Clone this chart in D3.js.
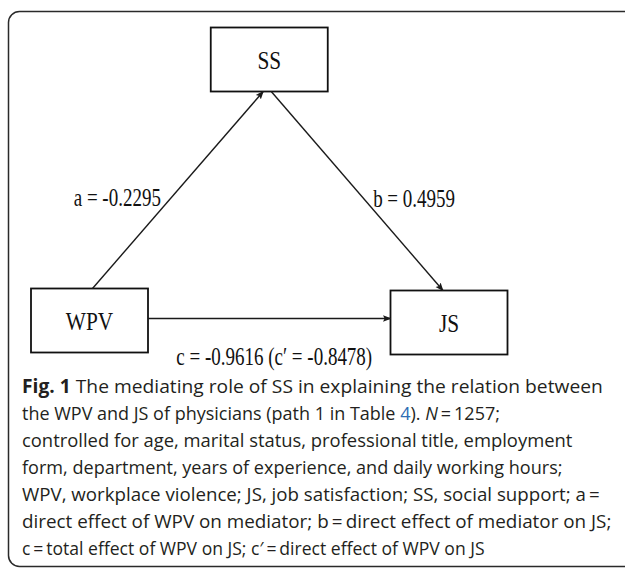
<!DOCTYPE html>
<html>
<head>
<meta charset="utf-8">
<script src="https://cdn.jsdelivr.net/npm/d3@7"></script>
<style>
  body { margin: 0; background: #fff; }
  svg { display: block; }
</style>
</head>
<body>
<div id="chart"></div>
<script>
// model: WPV -> SS -> JS, with direct path WPV -> JS
const nodes = ["WPV", "SS", "JS"];
const roles = ["X", "M", "Y"];
const pathNames = ["a", "b", "c"];
const pathFrom = ["WPV", "SS", "WPV"];
const pathTo = ["SS", "JS", "JS"];
const pathCoef = ["-0.2295", "0.4959", "-0.9616"];
const directCoef = "-0.8478"; // c'

// caption, one entry per printed line; [text, style]
const captionLines = [
  [["Fig. 1", "b"], [" The mediating role of SS in explaining the relation between", ""]],
  [["the WPV and JS of physicians (path 1 in Table ", ""], ["4", "link"], ["). ", ""], ["N", "i"], ["\u2009=\u20091257;", ""]],
  [["controlled for age, marital status, professional title, employment", ""]],
  [["form, department, years of experience, and daily working hours;", ""]],
  [["WPV, workplace violence; JS, job satisfaction; SS, social support; a\u2009=", ""]],
  [["direct effect of WPV on mediator; b\u2009=\u2009direct effect of mediator on JS;", ""]],
  [["c\u2009=\u2009total effect of WPV on JS; c\u2032\u2009=\u2009direct effect of WPV on JS", ""]]
];
// printed width of each caption line in the source
const captionWidths = [581, 478, 551, 541, 578, 590, 463];

const width = 625, height = 569;
const boxW = 117, boxH = 64;

const svg = d3.select("#chart").append("svg")
  .attr("width", width)
  .attr("height", height);

// outer frame, runs off the right edge like the source
svg.append("rect")
  .attr("x", 8.5).attr("y", 11.5)
  .attr("width", 660).attr("height", 555)
  .attr("rx", 11)
  .attr("fill", "none")
  .attr("stroke", "#2a2a2a")
  .attr("stroke-width", 1.5);

const x = d3.scalePoint().domain(nodes).range([89.5, 449]);
const y = d3.scaleOrdinal().domain(roles).range([320.5, 59.5, 322.5]);
const roleOf = n => roles[nodes.indexOf(n)];

svg.append("defs").append("marker")
  .attr("id", "arrow")
  .attr("viewBox", "0 0 10 10")
  .attr("refX", 9).attr("refY", 5)
  .attr("markerWidth", 6).attr("markerHeight", 6)
  .attr("markerUnits", "strokeWidth")
  .attr("orient", "auto")
  .append("path")
  .attr("d", "M0,1 L10,5 L0,9 L2,5 Z")
  .attr("fill", "#1a1a1a");

const g = svg.append("g");

const serif = (sel, size) => sel
  .style("font-family", "'Liberation Serif', serif")
  .style("font-size", size + "px")
  .attr("fill", "#111");

// boxes
const box = g.selectAll("g.node")
  .data(nodes)
  .enter().append("g")
  .attr("class", "node")
  .attr("transform", d => `translate(${x(d)},${y(roleOf(d))})`);

box.append("rect")
  .attr("x", -boxW / 2).attr("y", -boxH / 2)
  .attr("width", boxW).attr("height", boxH)
  .attr("fill", "#fff")
  .attr("stroke", "#111")
  .attr("stroke-width", 1.8);

box.append("text")
  .attr("text-anchor", "middle")
  .attr("dy", "0.35em")
  .attr("transform", "scale(0.82,1)")
  .call(serif, 26)
  .text(d => d);

// path end points, from box edges
function endpoints(i) {
  const f = pathFrom[i], t = pathTo[i];
  const x0 = x(f), y0 = y(roleOf(f)), x1 = x(t), y1 = y(roleOf(t));
  if (Math.abs(y1 - y0) < 10) {
    return [x0 + boxW / 2, (y0 + y1) / 2 - 3, x1 - boxW / 2, (y0 + y1) / 2 - 3];
  }
  const up = y1 < y0;
  return up
    ? [x0 + 3, y0 - boxH / 2, x1 - 6, y1 + boxH / 2]
    : [x0 + 2, y0 + boxH / 2, x1 - 6, y1 - boxH / 2];
}

g.selectAll("line.path")
  .data(pathNames)
  .enter().append("line")
  .attr("class", "path")
  .attr("x1", (d, i) => endpoints(i)[0])
  .attr("y1", (d, i) => endpoints(i)[1])
  .attr("x2", (d, i) => endpoints(i)[2])
  .attr("y2", (d, i) => endpoints(i)[3])
  .attr("stroke", "#1a1a1a")
  .attr("stroke-width", 1.4)
  .attr("marker-end", "url(#arrow)");

// coefficient labels
const labelText = pathNames.map((p, i) =>
  p === "c" ? `c = ${pathCoef[i]} (c\u2032 = ${directCoef})` : `${p} = ${pathCoef[i]}`);

pathNames.forEach((p, i) => {
  const e = endpoints(i);
  const mx = (e[0] + e[2]) / 2, my = (e[1] + e[3]) / 2;
  let tx, ty, anchor;
  if (p === "a") { tx = mx - 17; ty = my + 16; anchor = "end"; }
  else if (p === "b") { tx = mx + 16; ty = my + 16; anchor = "start"; }
  else { tx = mx + 5; ty = my + 46; anchor = "middle"; }
  g.append("text")
    .attr("transform", `translate(${tx},${ty}) scale(0.76,1)`)
    .attr("text-anchor", anchor)
    .call(serif, 25)
    .text(labelText[i]);
});

// caption
const capX = 22, capY0 = 393, capStep = 27;
const cap = svg.append("g")
  .style("font-family", "'Open Sans', sans-serif")
  .style("font-size", "19px")
  .attr("fill", "#231f20");

const capText = cap.selectAll("text")
  .data(captionLines)
  .enter().append("text");

capText.each(function(spans) {
  const t = d3.select(this);
  spans.forEach(([s, style]) => {
    const ts = t.append("tspan").text(s);
    if (style === "b") ts.style("font-weight", "bold");
    if (style === "i") ts.style("font-style", "italic");
    if (style === "link") ts.attr("fill", "#2e6db4");
  });
});

// squeeze each line to the width it has in the source
capText.attr("transform", function(d, i) {
  const k = captionWidths[i] / this.getComputedTextLength();
  return `translate(${capX},${capY0 + i * capStep}) scale(${k},1)`;
});
</script>
</body>
</html>
